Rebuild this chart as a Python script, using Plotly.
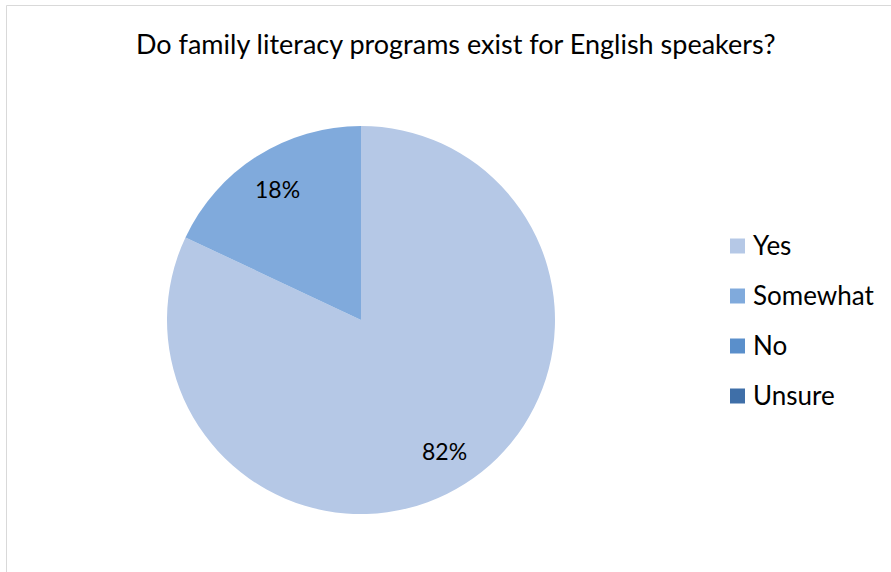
import numpy as np
import plotly.graph_objects as go

# Survey answers and their share of responses (percent)
labels = ["Yes", "Somewhat", "No", "Unsure"]
values = [82, 18, 0, 0]
colors = ["#B5C8E6", "#80AADC", "#5A8FCB", "#3F6FA8"]
title_text = "Do family literacy programs exist for English speakers?"

W, H = 891, 572
cx, cy, r = 361, 320, 194  # pie centre and radius in pixels

fig = go.Figure()
fig.add_trace(go.Pie(
    labels=labels,
    values=values,
    marker=dict(colors=colors, line=dict(width=0)),
    sort=False,
    direction="clockwise",
    rotation=0,
    textinfo="none",
    hoverinfo="label+percent",
    showlegend=False,
    domain=dict(x=[(cx - r) / W, (cx + r) / W],
                y=[(H - cy - r) / H, (H - cy + r) / H]),
))

annotations = []
shapes = []

# Percentage labels placed along each slice's bisector at 80% of the radius
vals = np.array(values, dtype=float)
frac = vals / vals.sum()
start = np.concatenate([[0], np.cumsum(frac)[:-1]])
for f, s in zip(frac, start):
    if f <= 0:
        continue
    mid = (s + f / 2) * 2 * np.pi
    px = cx + 0.8 * r * np.sin(mid)
    py = cy - 0.8 * r * np.cos(mid)
    annotations.append(dict(
        x=px / W, y=1 - py / H, xref="paper", yref="paper",
        text=f"{round(f * 100)}%", showarrow=False,
        font=dict(family="Lato", size=23, color="#000000"),
        xanchor="center", yanchor="middle",
    ))

# Legend drawn as swatches and labels
lx0, ly0, dy, sw = 730, 246, 50, 15
for i, (lab, col) in enumerate(zip(labels, colors)):
    y = ly0 + i * dy
    shapes.append(dict(
        type="rect", xref="paper", yref="paper",
        x0=lx0 / W, x1=(lx0 + sw) / W,
        y0=1 - (y + sw / 2) / H, y1=1 - (y - sw / 2) / H,
        fillcolor=col, line=dict(width=0),
    ))
    annotations.append(dict(
        x=(lx0 + 21) / W, y=1 - (y - 1) / H, xref="paper", yref="paper",
        text=lab, showarrow=False, xanchor="left", yanchor="middle",
        font=dict(family="Lato", size=26, color="#000000"),
    ))

# Title
annotations.append(dict(
    x=455 / W, y=1 - 44 / H, xref="paper", yref="paper",
    text=title_text, showarrow=False, xanchor="center", yanchor="middle",
    font=dict(family="Lato", size=27, color="#000000"),
))

# Chart-area frame (left and top edges visible)
shapes.append(dict(type="line", xref="paper", yref="paper",
                   x0=6.5 / W, x1=6.5 / W, y0=0, y1=1 - 5.5 / H,
                   line=dict(color="#D9D9D9", width=1)))
shapes.append(dict(type="line", xref="paper", yref="paper",
                   x0=6.5 / W, x1=1, y0=1 - 5.5 / H, y1=1 - 5.5 / H,
                   line=dict(color="#D9D9D9", width=1)))

fig.update_layout(
    width=W, height=H,
    margin=dict(l=0, r=0, t=0, b=0),
    paper_bgcolor="#FFFFFF",
    plot_bgcolor="#FFFFFF",
    annotations=annotations,
    shapes=shapes,
)

fig.write_html("out.html", config={"displayModeBar": False})
